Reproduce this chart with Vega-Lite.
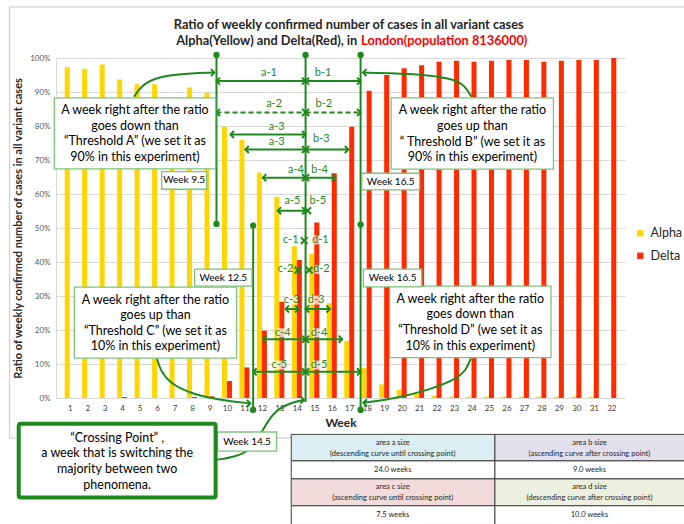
{
"$schema": "https://vega.github.io/schema/vega-lite/v6.json",
"width": 569, "height": 340,
"autosize": {"type": "none"},
"padding": {"left": 56, "top": 58, "right": 59, "bottom": 126},
"background": "white",
"config": {"font": "Lato", "view": {"stroke": null}, "axisX": {"labelOverlap": false, "tickCount": 40}, "axisY": {"labelOverlap": false, "tickCount": 20}},
"datasets": {
"bars": [
{"week":1,"variant":"Alpha","ratio":0.973},{"week":1,"variant":"Delta","ratio":0},
{"week":2,"variant":"Alpha","ratio":0.968},{"week":2,"variant":"Delta","ratio":0},
{"week":3,"variant":"Alpha","ratio":0.981},{"week":3,"variant":"Delta","ratio":0},
{"week":4,"variant":"Alpha","ratio":0.937},{"week":4,"variant":"Delta","ratio":0.003},
{"week":5,"variant":"Alpha","ratio":0.923},{"week":5,"variant":"Delta","ratio":0},
{"week":6,"variant":"Alpha","ratio":0.923},{"week":6,"variant":"Delta","ratio":0},
{"week":7,"variant":"Alpha","ratio":0.875},{"week":7,"variant":"Delta","ratio":0},
{"week":8,"variant":"Alpha","ratio":0.913},{"week":8,"variant":"Delta","ratio":0.003},
{"week":9,"variant":"Alpha","ratio":0.898},{"week":9,"variant":"Delta","ratio":0.005},
{"week":10,"variant":"Alpha","ratio":0.798},{"week":10,"variant":"Delta","ratio":0.05},
{"week":11,"variant":"Alpha","ratio":0.759},{"week":11,"variant":"Delta","ratio":0.09},
{"week":12,"variant":"Alpha","ratio":0.663},{"week":12,"variant":"Delta","ratio":0.198},
{"week":13,"variant":"Alpha","ratio":0.592},{"week":13,"variant":"Delta","ratio":0.283},
{"week":14,"variant":"Alpha","ratio":0.446},{"week":14,"variant":"Delta","ratio":0.406},
{"week":15,"variant":"Alpha","ratio":0.424},{"week":15,"variant":"Delta","ratio":0.516},
{"week":16,"variant":"Alpha","ratio":0.279},{"week":16,"variant":"Delta","ratio":0.661},
{"week":17,"variant":"Alpha","ratio":0.168},{"week":17,"variant":"Delta","ratio":0.798},
{"week":18,"variant":"Alpha","ratio":0.088},{"week":18,"variant":"Delta","ratio":0.904},
{"week":19,"variant":"Alpha","ratio":0.04},{"week":19,"variant":"Delta","ratio":0.95},
{"week":20,"variant":"Alpha","ratio":0.024},{"week":20,"variant":"Delta","ratio":0.97},
{"week":21,"variant":"Alpha","ratio":0.012},{"week":21,"variant":"Delta","ratio":0.979},
{"week":22,"variant":"Alpha","ratio":0.007},{"week":22,"variant":"Delta","ratio":0.989},
{"week":23,"variant":"Alpha","ratio":0.004},{"week":23,"variant":"Delta","ratio":0.992},
{"week":24,"variant":"Alpha","ratio":0.004},{"week":24,"variant":"Delta","ratio":0.989},
{"week":25,"variant":"Alpha","ratio":0.004},{"week":25,"variant":"Delta","ratio":0.992},
{"week":26,"variant":"Alpha","ratio":0.004},{"week":26,"variant":"Delta","ratio":0.994},
{"week":27,"variant":"Alpha","ratio":0.004},{"week":27,"variant":"Delta","ratio":0.994},
{"week":28,"variant":"Alpha","ratio":0.004},{"week":28,"variant":"Delta","ratio":0.989},
{"week":29,"variant":"Alpha","ratio":0.004},{"week":29,"variant":"Delta","ratio":0.992},
{"week":30,"variant":"Alpha","ratio":0.004},{"week":30,"variant":"Delta","ratio":0.994},
{"week":31,"variant":"Alpha","ratio":0.004},{"week":31,"variant":"Delta","ratio":0.994},
{"week":32,"variant":"Alpha","ratio":0},{"week":32,"variant":"Delta","ratio":1.0}
],
"frame": [{"x1":-2.44,"x2":40,"y1":1.15,"y2":-0.1176}],
"vlines": [
{"x":9.4,"y1":1.009,"y2":0.512},
{"x":11.5,"y1":0.507,"y2":-0.035},
{"x":14.5,"y1":1.009,"y2":-0.012},
{"x":17.65,"y1":1.009,"y2":0.51},
{"x":17.65,"y1":0.51,"y2":-0.035}
],
"dots": [
{"x":9.4,"y":1.009},{"x":9.4,"y":0.512},{"x":11.5,"y":0.507},{"x":11.5,"y":-0.035},
{"x":14.5,"y":1.009},{"x":17.65,"y":1.009},{"x":17.65,"y":0.51},{"x":17.65,"y":-0.035}
],
"arrows": [
{"x1":9.4,"x2":14.5,"y":0.932,"style":"solid"},
{"x1":14.5,"x2":17.65,"y":0.932,"style":"solid"},
{"x1":9.4,"x2":14.5,"y":0.84,"style":"dash"},
{"x1":14.5,"x2":17.65,"y":0.84,"style":"dash"},
{"x1":10.2,"x2":14.5,"y":0.775,"style":"solid"},
{"x1":11.05,"x2":14.5,"y":0.731,"style":"solid"},
{"x1":14.5,"x2":16.95,"y":0.731,"style":"solid"},
{"x1":12.05,"x2":14.5,"y":0.648,"style":"solid"},
{"x1":14.5,"x2":16.2,"y":0.648,"style":"solid"},
{"x1":12.9,"x2":14.5,"y":0.551,"style":"solid"},
{"x1":13.35,"x2":14.1,"y":0.262,"style":"solid"},
{"x1":14.5,"x2":15.9,"y":0.262,"style":"solid"},
{"x1":12.07,"x2":14.5,"y":0.173,"style":"solid"},
{"x1":14.5,"x2":16.6,"y":0.173,"style":"solid"},
{"x1":11.5,"x2":14.5,"y":0.077,"style":"solid"},
{"x1":14.5,"x2":17.65,"y":0.077,"style":"solid"}
],
"heads": [
{"x":9.4,"y":0.932,"dir":"L"},{"x":14.5,"y":0.932,"dir":"R"},
{"x":14.5,"y":0.932,"dir":"L"},{"x":17.65,"y":0.932,"dir":"R"},
{"x":9.4,"y":0.84,"dir":"L"},{"x":14.5,"y":0.84,"dir":"R"},
{"x":14.5,"y":0.84,"dir":"L"},{"x":17.65,"y":0.84,"dir":"R"},
{"x":10.2,"y":0.775,"dir":"L"},{"x":14.5,"y":0.775,"dir":"R"},
{"x":11.05,"y":0.731,"dir":"L"},{"x":14.5,"y":0.731,"dir":"R"},
{"x":14.5,"y":0.731,"dir":"L"},{"x":16.95,"y":0.731,"dir":"R"},
{"x":12.05,"y":0.648,"dir":"L"},{"x":14.5,"y":0.648,"dir":"R"},
{"x":14.5,"y":0.648,"dir":"L"},{"x":16.2,"y":0.648,"dir":"R"},
{"x":12.9,"y":0.551,"dir":"L"},{"x":14.5,"y":0.551,"dir":"R"},
{"x":13.35,"y":0.262,"dir":"L"},{"x":14.1,"y":0.262,"dir":"R"},
{"x":14.5,"y":0.262,"dir":"L"},{"x":15.9,"y":0.262,"dir":"R"},
{"x":12.07,"y":0.173,"dir":"L"},{"x":14.5,"y":0.173,"dir":"R"},
{"x":14.5,"y":0.173,"dir":"L"},{"x":16.6,"y":0.173,"dir":"R"},
{"x":11.5,"y":0.077,"dir":"L"},{"x":14.5,"y":0.077,"dir":"R"},
{"x":14.5,"y":0.077,"dir":"L"},{"x":17.65,"y":0.077,"dir":"R"},
{"x":9.28,"y":0.957,"dir":"R"},{"x":17.79,"y":0.957,"dir":"L"},
{"x":11.34,"y":-0.016,"dir":"R"},{"x":17.81,"y":-0.014,"dir":"L"},
{"x":14.41,"y":-0.006,"dir":"R"}
],
"xmarks": [{"x":14.62,"y":0.551},{"x":14.42,"y":0.463},{"x":14.06,"y":0.376},{"x":14.71,"y":0.376}],
"labels": [
{"t":"a-1","g":"ab","x":12.4,"y":0.955},{"t":"b-1","g":"ab","x":15.5,"y":0.955},
{"t":"a-2","g":"ab","x":12.7,"y":0.866},{"t":"b-2","g":"ab","x":15.55,"y":0.866},
{"t":"a-3","g":"ab","x":12.85,"y":0.796},{"t":"a-3","g":"ab","x":12.85,"y":0.752},{"t":"b-3","g":"ab","x":15.4,"y":0.762},
{"t":"a-4","g":"ab","x":13.95,"y":0.672},{"t":"b-4","g":"ab","x":15.3,"y":0.672},
{"t":"a-5","g":"ab","x":13.75,"y":0.578},{"t":"b-5","g":"ab","x":15.2,"y":0.578},
{"t":"c-1","g":"cd","x":13.65,"y":0.465},{"t":"d-1","g":"cd","x":15.35,"y":0.465},
{"t":"c-2","g":"cd","x":13.35,"y":0.378},{"t":"d-2","g":"cd","x":15.4,"y":0.378},
{"t":"c-3","g":"cd","x":13.7,"y":0.288},{"t":"d-3","g":"cd","x":15.1,"y":0.288},
{"t":"c-4","g":"cd","x":13.2,"y":0.192},{"t":"d-4","g":"cd","x":15.27,"y":0.192},
{"t":"c-5","g":"cd","x":13.0,"y":0.097},{"t":"d-5","g":"cd","x":15.27,"y":0.097}
],
"curves": [
{"c":"A","o":1,"x":4.68,"y":0.886},{"c":"A","o":2,"x":5.06,"y":0.916},{"c":"A","o":3,"x":5.8,"y":0.94},{"c":"A","o":4,"x":7.1,"y":0.953},{"c":"A","o":5,"x":9.28,"y":0.957},
{"c":"B","o":1,"x":24.0,"y":0.886},{"c":"B","o":2,"x":23.62,"y":0.918},{"c":"B","o":3,"x":23.06,"y":0.937},{"c":"B","o":4,"x":21.56,"y":0.95},{"c":"B","o":5,"x":19.68,"y":0.955},{"c":"B","o":6,"x":17.79,"y":0.957},
{"c":"C","o":1,"x":5.99,"y":0.117},{"c":"C","o":2,"x":6.18,"y":0.082},{"c":"C","o":3,"x":6.74,"y":0.043},{"c":"C","o":4,"x":7.87,"y":0.014},{"c":"C","o":5,"x":9.56,"y":-0.006},{"c":"C","o":6,"x":11.34,"y":-0.016},
{"c":"D","o":1,"x":23.96,"y":0.117},{"c":"D","o":2,"x":23.71,"y":0.082},{"c":"D","o":3,"x":23.06,"y":0.053},{"c":"D","o":4,"x":21.56,"y":0.024},{"c":"D","o":5,"x":19.68,"y":-0.001},{"c":"D","o":6,"x":17.81,"y":-0.014},
{"c":"X","o":1,"x":9.37,"y":-0.182},{"c":"X","o":2,"x":10.49,"y":-0.173},{"c":"X","o":3,"x":11.34,"y":-0.153},{"c":"X","o":4,"x":11.9,"y":-0.109},{"c":"X","o":5,"x":12.37,"y":-0.065},{"c":"X","o":6,"x":12.93,"y":-0.03},{"c":"X","o":7,"x":13.87,"y":-0.011},{"c":"X","o":8,"x":14.41,"y":-0.006}
],
"boxes": [
{"kind":"big","x1":0.12,"x2":9.35,"y1":0.883,"y2":0.674},
{"kind":"big","x1":19.4,"x2":28.69,"y1":0.883,"y2":0.673},
{"kind":"big","x1":1.26,"x2":10.55,"y1":0.326,"y2":0.117},
{"kind":"big","x1":19.31,"x2":28.55,"y1":0.329,"y2":0.119},
{"kind":"week","x1":6.26,"x2":8.84,"y1":0.666,"y2":0.614},
{"kind":"week","x1":17.72,"x2":21.03,"y1":0.661,"y2":0.612},
{"kind":"week","x1":8.15,"x2":11.43,"y1":0.379,"y2":0.329},
{"kind":"week","x1":17.81,"x2":21.15,"y1":0.379,"y2":0.327},
{"kind":"week","x1":9.46,"x2":12.84,"y1":-0.1,"y2":-0.156},
{"kind":"cross","x1":-1.92,"x2":9.35,"y1":-0.076,"y2":-0.293}
],
"boxtexts": [
{"kind":"big","x":4.735,"y":0.7785,"t":"A week right after the ratio\ngoes down than\n“Threshold A” (we set it as\n90% in this experiment)"},
{"kind":"big","x":24.05,"y":0.778,"t":"A week right after the ratio\ngoes up than\n“ Threshold B” (we set it as\n90% in this experiment)"},
{"kind":"big","x":5.905,"y":0.2215,"t":"A week right after the ratio\ngoes up than\n“Threshold C” (we set it as\n10% in this experiment)"},
{"kind":"big","x":23.93,"y":0.224,"t":"A week right after the ratio\ngoes down than\n“Threshold D” (we set it as\n10% in this experiment)"},
{"kind":"big","x":3.715,"y":-0.1845,"t":"“Crossing Point” ,\na week that is switching the\nmajority between two\nphenomena."},
{"kind":"week","x":7.55,"y":0.64,"t":"Week 9.5"},
{"kind":"week","x":19.375,"y":0.6365,"t":"Week 16.5"},
{"kind":"week","x":9.79,"y":0.354,"t":"Week 12.5"},
{"kind":"week","x":19.48,"y":0.353,"t":"Week 16.5"},
{"kind":"week","x":11.15,"y":-0.128,"t":"Week 14.5"}
],
"cells": [
{"cell":"a","x1":13.68,"x2":25.34,"y1":-0.107,"y2":-0.185},
{"cell":"b","x1":25.34,"x2":36.5,"y1":-0.107,"y2":-0.185},
{"cell":"v","x1":13.68,"x2":25.34,"y1":-0.185,"y2":-0.238},
{"cell":"v","x1":25.34,"x2":36.5,"y1":-0.185,"y2":-0.238},
{"cell":"c","x1":13.68,"x2":25.34,"y1":-0.238,"y2":-0.317},
{"cell":"d","x1":25.34,"x2":36.5,"y1":-0.238,"y2":-0.317},
{"cell":"v","x1":13.68,"x2":25.34,"y1":-0.317,"y2":-0.372},
{"cell":"v","x1":25.34,"x2":36.5,"y1":-0.317,"y2":-0.372}
],
"celltexts": [
{"t":"area a size","x":19.49,"y":-0.133},{"t":"(descending curve until crossing point)","x":19.49,"y":-0.166},
{"t":"area b size","x":30.75,"y":-0.133},{"t":"(ascending curve after crossing point)","x":30.75,"y":-0.166},
{"t":"24.0 weeks","x":19.49,"y":-0.2126},{"t":"9.0 weeks","x":30.75,"y":-0.2126},
{"t":"area c size","x":19.49,"y":-0.2626},{"t":"(ascending curve until crossing point)","x":19.49,"y":-0.2932},
{"t":"area d size","x":30.75,"y":-0.2626},{"t":"(descending curve after crossing point)","x":30.75,"y":-0.2932},
{"t":"7.5 weeks","x":19.49,"y":-0.344},{"t":"10.0 weeks","x":30.75,"y":-0.344}
],
"titles": [
{"part":"c","t":"Ratio of weekly confirmed number of cases in all variant cases","x":16.97,"y":1.097},
{"part":"l","t":"Alpha(Yellow) and Delta(Red), in","x":17.46,"y":1.05},
{"part":"r","t":"London(population 8136000)","x":17.68,"y":1.05}
]
},
"layer": [
{"data":{"name":"bars"},"transform":[{"filter":"datum.variant === 'Alpha'"}],
 "mark":{"type":"bar","width":5,"xOffset":-2.5},
 "encoding":{
  "x":{"field":"week","type":"quantitative","scale":{"domain":[0.5,32.5],"nice":false,"zero":false},
   "axis":{"title":"Week","values":[1,2,3,4,5,6,7,8,9,10,11,12,13,14,15,16,17,18,19,20,21,22,23,24,25,26,27,28,29,30,31,32],"tickCount":40,"format":"d","labelOverlap":false,"labelFontSize":8,"labelColor":"#404040","ticks":false,"grid":false,"domainColor":"#D9D9D9","labelPadding":6,"titleFontSize":12,"titleFontWeight":"bold","titleColor":"#262626","titlePadding":5}},
  "y":{"field":"ratio","type":"quantitative","scale":{"domain":[0,1],"nice":false},
   "axis":{"title":"Ratio of weekly confirmed number of cases in all variant cases","format":".0%","values":[0,0.1,0.2,0.3,0.4,0.5,0.6,0.7,0.8,0.9,1],"tickCount":20,"labelOverlap":false,"labelFontSize":8,"labelColor":"#595959","ticks":false,"domainColor":"#D9D9D9","gridColor":"#D9D9D9","labelPadding":6,"titleFontSize":11,"titleFontWeight":"bold","titleColor":"#262626","titlePadding":6}},
  "color":{"field":"variant","type":"nominal","scale":{"domain":["Alpha","Delta"],"range":["#FFD700","#FF2A00"]},
   "legend":{"title":null,"orient":"none","legendX":578,"legendY":169,"symbolType":"square","symbolSize":40,"labelFontSize":12.5,"labelColor":"#262626","rowPadding":9.5,"labelOffset":4}}
 }},
{"data":{"name":"bars"},"transform":[{"filter":"datum.variant === 'Delta'"}],
 "mark":{"type":"bar","width":5,"xOffset":2.5},
 "encoding":{"x":{"field":"week","type":"quantitative"},"y":{"field":"ratio","type":"quantitative"},"color":{"field":"variant","type":"nominal"}}},
{"data":{"name":"frame"},"mark":{"type":"rect","fill":"transparent","stroke":"#C8C8C8","strokeWidth":1},
 "encoding":{"x":{"field":"x1","type":"quantitative"},"x2":{"field":"x2"},"y":{"field":"y1","type":"quantitative"},"y2":{"field":"y2"}}},
{"data":{"name":"vlines"},"mark":{"type":"rule","color":"#1E8A1E","strokeWidth":2},
 "encoding":{"x":{"field":"x","type":"quantitative"},"y":{"field":"y1","type":"quantitative"},"y2":{"field":"y2"}}},
{"data":{"name":"dots"},"mark":{"type":"circle","color":"#1E8A1E","opacity":1,"size":40},
 "encoding":{"x":{"field":"x","type":"quantitative"},"y":{"field":"y","type":"quantitative"}}},
{"data":{"name":"arrows"},"mark":{"type":"rule","color":"#1E8A1E","strokeWidth":2},
 "encoding":{"x":{"field":"x1","type":"quantitative"},"x2":{"field":"x2"},"y":{"field":"y","type":"quantitative"},
  "strokeDash":{"field":"style","type":"nominal","scale":{"domain":["solid","dash"],"range":[[1,0],[5,3]]},"legend":null}}},
{"data":{"name":"curves"},"mark":{"type":"line","color":"#1E8A1E","strokeWidth":2,"interpolate":"basis"},
 "encoding":{"x":{"field":"x","type":"quantitative"},"y":{"field":"y","type":"quantitative"},"detail":{"field":"c"},"order":{"field":"o","type":"quantitative"}}},
{"data":{"name":"heads"},"mark":{"type":"point","filled":false,"color":"#1E8A1E","strokeWidth":2,"size":50,"opacity":1},
 "encoding":{"x":{"field":"x","type":"quantitative"},"y":{"field":"y","type":"quantitative"},
  "shape":{"field":"dir","type":"nominal","scale":{"domain":["L","R"],"range":["M1,-1L0,0L1,1","M-1,-1L0,0L-1,1"]},"legend":null}}},
{"data":{"name":"xmarks"},"mark":{"type":"point","filled":false,"color":"#1E8A1E","strokeWidth":2,"size":45,"opacity":1,"shape":"M-1,-1L1,1M-1,1L1,-1"},
 "encoding":{"x":{"field":"x","type":"quantitative"},"y":{"field":"y","type":"quantitative"}}},
{"data":{"name":"labels"},"transform":[{"filter":"datum.g === 'cd'"}],"mark":{"type":"point","filled":true,"color":"#FFFFFF","opacity":0.72,"size":90,"shape":"M-1.3,-0.95L1.3,-0.95L1.3,0.95L-1.3,0.95Z","strokeWidth":0},
 "encoding":{"x":{"field":"x","type":"quantitative"},"y":{"field":"y","type":"quantitative"}}},
{"data":{"name":"labels"},"mark":{"type":"text","color":"#1E8A1E","fontSize":11,"font":"Lato"},
 "encoding":{"x":{"field":"x","type":"quantitative"},"y":{"field":"y","type":"quantitative"},"text":{"field":"t"}}},
{"data":{"name":"boxes"},"transform":[{"filter":"datum.kind !== 'cross'"}],"mark":{"type":"rect","fill":"white","stroke":"#7CC47C","strokeWidth":1.3},
 "encoding":{"x":{"field":"x1","type":"quantitative"},"x2":{"field":"x2"},"y":{"field":"y1","type":"quantitative"},"y2":{"field":"y2"}}},
{"data":{"name":"boxes"},"transform":[{"filter":"datum.kind === 'cross'"}],"mark":{"type":"rect","fill":"white","stroke":"#1E8A1E","strokeWidth":4,"cornerRadius":2},
 "encoding":{"x":{"field":"x1","type":"quantitative"},"x2":{"field":"x2"},"y":{"field":"y1","type":"quantitative"},"y2":{"field":"y2"}}},
{"data":{"name":"boxtexts"},"transform":[{"filter":"datum.kind === 'big'"}],"mark":{"type":"text","fontSize":12.5,"lineHeight":15.6,"dy":-23,"color":"#000000","align":"center","baseline":"middle","lineBreak":"\n"},
 "encoding":{"x":{"field":"x","type":"quantitative"},"y":{"field":"y","type":"quantitative"},"text":{"field":"t"}}},
{"data":{"name":"boxtexts"},"transform":[{"filter":"datum.kind === 'week'"}],"mark":{"type":"text","fontSize":10,"color":"#000000","align":"center","baseline":"middle"},
 "encoding":{"x":{"field":"x","type":"quantitative"},"y":{"field":"y","type":"quantitative"},"text":{"field":"t"}}},
{"data":{"name":"cells"},"mark":{"type":"rect","stroke":"#404040","strokeWidth":1},
 "encoding":{"x":{"field":"x1","type":"quantitative"},"x2":{"field":"x2"},"y":{"field":"y1","type":"quantitative"},"y2":{"field":"y2"},
  "fill":{"field":"cell","type":"nominal","scale":{"domain":["a","b","c","d","v"],"range":["#DAEEF3","#E4DFEC","#F2DCDB","#EBF1DE","#FFFFFF"]},"legend":null}}},
{"data":{"name":"celltexts"},"mark":{"type":"text","fontSize":7.5,"color":"#262626","align":"center","baseline":"middle"},
 "encoding":{"x":{"field":"x","type":"quantitative"},"y":{"field":"y","type":"quantitative"},"text":{"field":"t"}}},
{"data":{"name":"titles"},"transform":[{"filter":"datum.part === 'c'"}],"mark":{"type":"text","fontSize":12.8,"fontWeight":"bold","color":"#262626","align":"center","baseline":"middle"},
 "encoding":{"x":{"field":"x","type":"quantitative"},"y":{"field":"y","type":"quantitative"},"text":{"field":"t"}}},
{"data":{"name":"titles"},"transform":[{"filter":"datum.part === 'l'"}],"mark":{"type":"text","fontSize":12.8,"fontWeight":"bold","color":"#262626","align":"right","baseline":"middle"},
 "encoding":{"x":{"field":"x","type":"quantitative"},"y":{"field":"y","type":"quantitative"},"text":{"field":"t"}}},
{"data":{"name":"titles"},"transform":[{"filter":"datum.part === 'r'"}],"mark":{"type":"text","fontSize":12.8,"fontWeight":"bold","color":"#FF0000","align":"left","baseline":"middle"},
 "encoding":{"x":{"field":"x","type":"quantitative"},"y":{"field":"y","type":"quantitative"},"text":{"field":"t"}}}
]
}
